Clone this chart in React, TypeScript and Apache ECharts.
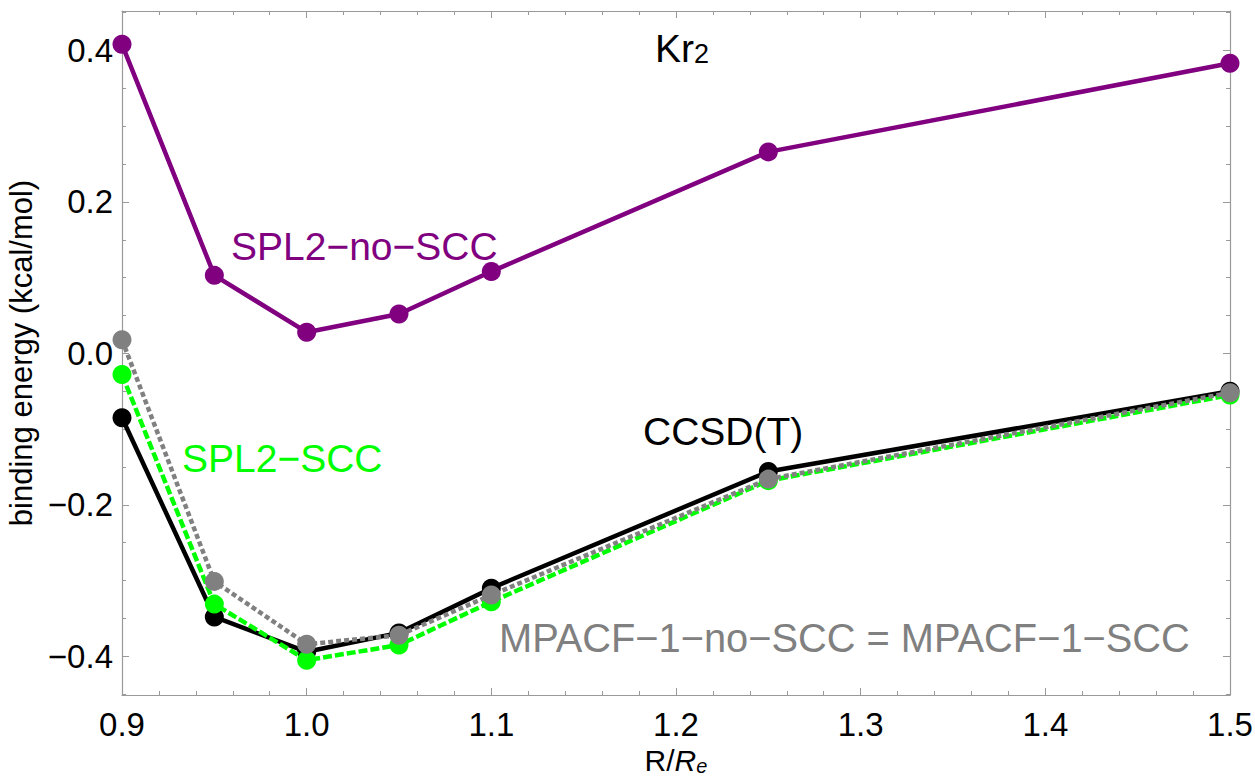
import React, { useEffect, useRef } from "react";
import * as echarts from "echarts";

const R = [0.9, 0.95, 1.0, 1.05, 1.1, 1.25, 1.5];
const splNoScc = [0.408, 0.103, 0.028, 0.052, 0.108, 0.266, 0.383];
const ccsdT = [-0.085, -0.348, -0.394, -0.369, -0.31, -0.156, -0.05];
const splScc = [-0.028, -0.331, -0.405, -0.385, -0.328, -0.168, -0.055];
const mpacf = [0.018, -0.301, -0.384, -0.372, -0.319, -0.166, -0.052];

const xMajor = [0.9, 1.0, 1.1, 1.2, 1.3, 1.4, 1.5];
const xMinor = [
  0.92, 0.94, 0.96, 0.98, 1.02, 1.04, 1.06, 1.08, 1.12, 1.14, 1.16, 1.18,
  1.22, 1.24, 1.26, 1.28, 1.32, 1.34, 1.36, 1.38, 1.42, 1.44, 1.46, 1.48,
];
const yMajor = [-0.4, -0.2, 0.0, 0.2, 0.4];
const yMinor = [
  -0.45, -0.35, -0.3, -0.25, -0.15, -0.1, -0.05, 0.05, 0.1, 0.15, 0.25, 0.3,
  0.35, 0.45,
];

const FONT = '"Liberation Sans", Arial, sans-serif';
const FRAME = "#999999";

function pairs(ys: number[]) {
  return R.map((x, i) => [x, ys[i]]);
}

export default function App() {
  const ref = useRef<HTMLDivElement>(null);
  useEffect(() => {
    if (!ref.current) return;
    const chart = echarts.init(ref.current, null, { renderer: "svg" });
    const xMin = 0.9,
      xMax = 1.5,
      yMin = -0.451,
      yMax = 0.452;

    const mkX = (pos: string, major: boolean, main: boolean) => ({
      type: "value",
      min: xMin,
      max: xMax,
      position: pos,
      axisLine: { show: major, onZero: false, lineStyle: { color: FRAME, width: 1.2 } },
      axisTick: {
        show: true,
        inside: true,
        length: major ? 7 : 4,
        customValues: major ? xMajor : xMinor,
        lineStyle: { color: FRAME, width: 1 },
      },
      axisLabel: main
        ? {
            show: true,
            customValues: xMajor,
            formatter: (v: number) => v.toFixed(1),
            fontSize: 33,
            color: "#000",
            fontFamily: FONT,
            margin: 13,
          }
        : { show: false },
      splitLine: { show: false },
      ...(main
        ? {
            name: "R/{it|R}{sub|e}",
            nameLocation: "middle",
            nameGap: 50,
            nameTextStyle: {
              fontSize: 30,
              color: "#000",
              fontFamily: FONT,
              rich: {
                it: { fontSize: 30, fontStyle: "italic", fontFamily: FONT, color: "#000" },
                sub: {
                  fontSize: 20,
                  fontStyle: "italic",
                  fontFamily: FONT,
                  color: "#000",
                  verticalAlign: "bottom",
                },
              },
            },
          }
        : {}),
    });

    const mkY = (pos: string, major: boolean, main: boolean) => ({
      type: "value",
      min: yMin,
      max: yMax,
      position: pos,
      axisLine: { show: major, onZero: false, lineStyle: { color: FRAME, width: 1.2 } },
      axisTick: {
        show: true,
        inside: true,
        length: major ? 7 : 4,
        customValues: major ? yMajor : yMinor,
        lineStyle: { color: FRAME, width: 1 },
      },
      axisLabel: main
        ? {
            show: true,
            customValues: yMajor,
            formatter: (v: number) =>
              (v < -1e-9 ? "\u2212" : "") + Math.abs(v).toFixed(1),
            fontSize: 33,
            color: "#000",
            fontFamily: FONT,
            margin: 9,
          }
        : { show: false },
      splitLine: { show: false },
      ...(main
        ? {
            name: "binding energy (kcal/mol)",
            nameLocation: "middle",
            nameGap: 78,
            nameTextStyle: { fontSize: 31, color: "#000", fontFamily: FONT },
          }
        : {}),
    });

    const mkSeries = (
      name: string,
      ys: number[],
      color: string,
      type: any,
      z: number
    ) => ({
      name,
      type: "line",
      xAxisIndex: 0,
      yAxisIndex: 0,
      data: pairs(ys),
      symbol: "circle",
      symbolSize: 19,
      itemStyle: { color },
      lineStyle: { color, width: 4.5, type, cap: "butt" },
      z,
    });

    const txt = (
      text: string,
      x: number,
      y: number,
      color: string,
      size: number,
      rich?: any
    ) => ({
      type: "text",
      x,
      y,
      z: 100,
      style: {
        text,
        fill: color,
        fontSize: size,
        fontFamily: FONT,
        textAlign: "left",
        textVerticalAlign: "middle",
        ...(rich ? { rich } : {}),
      },
    });

    chart.setOption({
      animation: false,
      backgroundColor: "#fff",
      grid: {
        left: 122,
        right: 25,
        top: 11,
        bottom: 85,
        containLabel: false,
        outerBoundsMode: "none",
      },
      xAxis: [
        mkX("bottom", true, true),
        mkX("bottom", false, false),
        mkX("top", true, false),
        mkX("top", false, false),
      ],
      yAxis: [
        mkY("left", true, true),
        mkY("left", false, false),
        mkY("right", true, false),
        mkY("right", false, false),
      ],
      series: [
        mkSeries("SPL2-no-SCC", splNoScc, "#800080", "solid", 2),
        mkSeries("CCSD(T)", ccsdT, "#000000", "solid", 3),
        mkSeries("SPL2-SCC", splScc, "#00ff00", [9, 3], 4),
        mkSeries("MPACF-1", mpacf, "#808080", [5, 3], 5),
      ],
      graphic: [
        txt("Kr{sub|2}", 655, 48, "#000", 39, {
          sub: { fontSize: 27, fontFamily: FONT, fill: "#000", verticalAlign: "bottom" },
        }),
        txt("SPL2\u2212no\u2212SCC", 231, 246, "#800080", 39),
        txt("CCSD(T)", 643, 431, "#000", 39),
        txt("SPL2\u2212SCC", 182, 458, "#00ff00", 39),
        txt("MPACF\u22121\u2212no\u2212SCC = MPACF\u22121\u2212SCC", 499, 638, "#808080", 39.8),
      ],
    });
    return () => chart.dispose();
  }, []);
  return (
    <div
      ref={ref}
      style={{ position: "fixed", left: 0, top: 0, width: 1255, height: 780 }}
    />
  );
}
